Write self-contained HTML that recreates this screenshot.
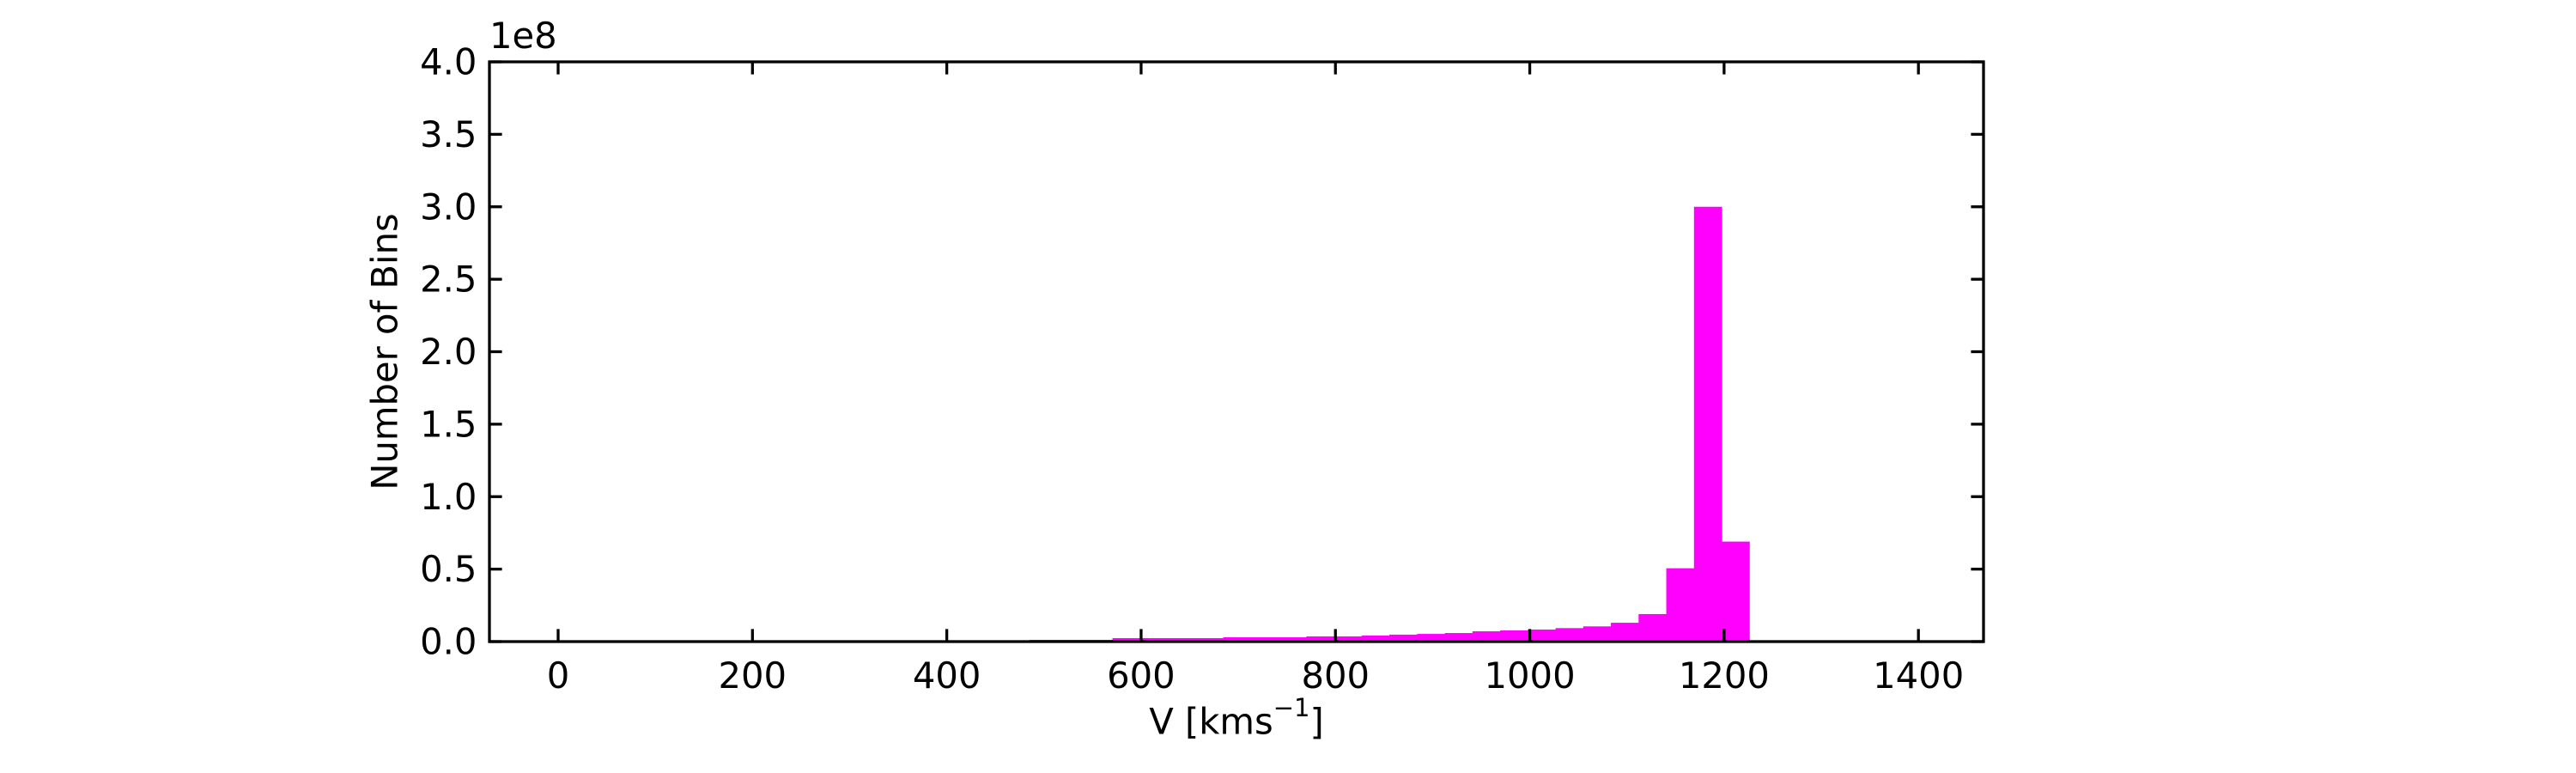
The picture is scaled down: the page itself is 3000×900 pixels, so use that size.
<!DOCTYPE html>
<html><head><meta charset="utf-8"><style>
html,body{margin:0;padding:0;background:#fff;}
svg{display:block;font-family:"DejaVu Sans","Liberation Sans",sans-serif;}
</style></head><body>
<svg id="chart" width="3000" height="900" viewBox="0 0 3000 900" xmlns="http://www.w3.org/2000/svg">
<rect width="3000" height="900" fill="#fff"/>
<g id="bars"></g>
<g id="axes"></g>
</svg>
<script>
const binStart = 485;
const binWidth = 28.5;
const binCounts = [0.012,0.012,0.012,0.024,0.024,0.024,0.024,0.030,0.030,0.030,0.036,0.036,0.042,0.048,0.053,0.059,0.071,0.077,0.083,0.093,0.105,0.13,0.19,0.506,3.0,0.69];
const xTicks = [0,200,400,600,800,1000,1200,1400];
const yTicks = [0,0.5,1.0,1.5,2.0,2.5,3.0,3.5,4.0];
const xMin=-70.7, xMax=1467, yMin=0, yMax=4;
const L=570, R=2310, T=72, B=747;
function sx(v){return L+(v-xMin)/(xMax-xMin)*(R-L);}
function sy(v){return B-(v-yMin)/(yMax-yMin)*(B-T);}
const NS="http://www.w3.org/2000/svg";
function mk(tag,attrs,parent){const e=document.createElementNS(NS,tag);for(const k in attrs)e.setAttribute(k,attrs[k]);parent.appendChild(e);return e;}
const bars=document.getElementById('bars');
binCounts.forEach((c,i)=>{
  const x0=sx(binStart+i*binWidth), x1=sx(binStart+(i+1)*binWidth);
  const r=mk('rect',{x:x0,y:sy(c),width:x1-x0+0.5,height:sy(0)-sy(c),fill:'#ff00ff'},bars);
  
  
});
const ax=document.getElementById('axes');
const frame=mk('rect',{x:L,y:T,width:R-L,height:B-T,fill:'none',stroke:'#000','stroke-width':3.3},ax);


const tl=14.6, fs=41.7;
xTicks.forEach(v=>{
  const x=sx(v);
  mk('line',{x1:x,x2:x,y1:B,y2:B-tl,stroke:'#000','stroke-width':3.3},ax);
  mk('line',{x1:x,x2:x,y1:T,y2:T+tl,stroke:'#000','stroke-width':3.3},ax);
  const t=mk('text',{x:x,y:B+tl+fs*0.5+4,'font-size':fs,'text-anchor':'middle','dominant-baseline':'central'},ax);
  t.textContent=String(v);
  
  
});
yTicks.forEach(v=>{
  const y=sy(v);
  mk('line',{x1:L,x2:L+tl,y1:y,y2:y,stroke:'#000','stroke-width':3.3},ax);
  mk('line',{x1:R,x2:R-tl,y1:y,y2:y,stroke:'#000','stroke-width':3.3},ax);
  const t=mk('text',{x:L-tl,y:y,'font-size':fs,'text-anchor':'end','dominant-baseline':'central'},ax);
  t.textContent=v.toFixed(1);
  
  
});
const off=mk('text',{x:L,y:56,'font-size':fs},ax);
off.textContent='1e8';


const xl=mk('text',{x:(L+R)/2,y:840,'font-size':fs,'text-anchor':'middle','dominant-baseline':'central'},ax);
xl.innerHTML='V [kms<tspan dy="-16" font-size="29">−1</tspan><tspan dy="16">]</tspan>';


const yl=mk('text',{x:448,y:(T+B)/2,'font-size':fs,'text-anchor':'middle','dominant-baseline':'central',transform:'rotate(-90 448 '+((T+B)/2)+')'},ax);
yl.textContent='Number of Bins';


</script>
</body></html>
